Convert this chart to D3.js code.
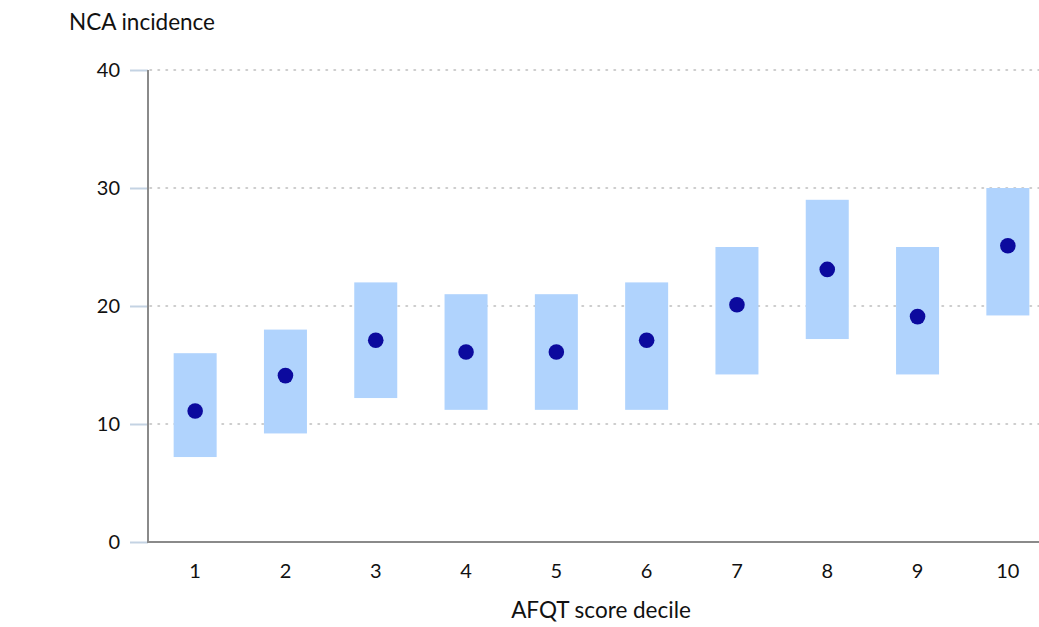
<!DOCTYPE html>
<html>
<head>
<meta charset="utf-8">
<script src="https://cdn.jsdelivr.net/npm/d3@7"></script>
<style>
  html, body { margin: 0; padding: 0; background: #fff; }
  svg { display: block; font-family: Lato, "Open Sans", sans-serif; }
</style>
</head>
<body>
<svg id="chart" width="1039" height="627"></svg>
<script>
// AFQT score deciles and NCA incidence estimates with intervals
const deciles = ["1", "2", "3", "4", "5", "6", "7", "8", "9", "10"];
const estimate = [11.1, 14.1, 17.1, 16.1, 16.1, 17.1, 20.1, 23.1, 19.1, 25.1];
const lower = [7.2, 9.2, 12.2, 11.2, 11.2, 11.2, 14.2, 17.2, 14.2, 19.2];
const upper = [16, 18, 22, 21, 21, 22, 25, 29, 25, 30];
const yTicks = [0, 10, 20, 30, 40];

const svg = d3.select("#chart");

const x = d3.scaleBand().domain(deciles).range([150, 1053]).padding(0);
const y = d3.scaleLinear().domain([0, 40]).range([542, 70]);

// dotted horizontal gridlines
svg.append("g")
  .selectAll("line")
  .data(yTicks.filter(d => d > 0))
  .join("line")
  .attr("x1", 150).attr("x2", 1039)
  .attr("y1", d => y(d)).attr("y2", d => y(d))
  .attr("stroke", "#bdbdbd")
  .attr("stroke-width", 1.5)
  .attr("stroke-dasharray", "1.5,6.5")
  .attr("stroke-linecap", "round");

// y axis with short tick marks
const yAxis = svg.append("g")
  .attr("transform", "translate(148,0)")
  .call(d3.axisLeft(y).tickValues(yTicks).tickSize(18).tickPadding(10));
yAxis.select(".domain").remove();
yAxis.selectAll(".tick line").attr("stroke", "#c4d3e3").attr("stroke-width", 2);
yAxis.selectAll(".tick text")
  .attr("font-size", 20).attr("fill", "#111")
  .attr("font-family", "Lato, 'Open Sans', sans-serif");

// axis lines
svg.append("line")
  .attr("x1", 148).attr("x2", 148).attr("y1", y(40)).attr("y2", y(0) + 1)
  .attr("stroke", "#8a8a8a").attr("stroke-width", 2);
svg.append("line")
  .attr("x1", 148).attr("x2", 1039).attr("y1", y(0)).attr("y2", y(0))
  .attr("stroke", "#8a8a8a").attr("stroke-width", 2);

// x axis labels
const xAxis = svg.append("g")
  .attr("transform", `translate(0,${y(0)})`)
  .call(d3.axisBottom(x).tickSize(0).tickPadding(22));
xAxis.select(".domain").remove();
xAxis.selectAll(".tick text")
  .attr("font-size", 20).attr("fill", "#111")
  .attr("font-family", "Lato, 'Open Sans', sans-serif");

const rows = deciles.map((d, i) => ({ d, est: estimate[i], lo: lower[i], hi: upper[i] }));
const boxW = 43;

// interval boxes
svg.append("g")
  .selectAll("rect")
  .data(rows)
  .join("rect")
  .attr("x", r => x(r.d) + x.bandwidth() / 2 - boxW / 2)
  .attr("width", boxW)
  .attr("y", r => y(r.hi))
  .attr("height", r => y(r.lo) - y(r.hi))
  .attr("fill", "#b0d3fd");

// point estimates
svg.append("g")
  .selectAll("circle")
  .data(rows)
  .join("circle")
  .attr("cx", r => x(r.d) + x.bandwidth() / 2)
  .attr("cy", r => y(r.est))
  .attr("r", 7.8)
  .attr("fill", "#0c0a9e");

// titles
svg.append("text")
  .attr("x", 69).attr("y", 30)
  .attr("font-size", 22.5).attr("fill", "#111")
  .text("NCA incidence");

svg.append("text")
  .attr("x", 601).attr("y", 618)
  .attr("text-anchor", "middle")
  .attr("font-size", 22.5).attr("fill", "#111")
  .text("AFQT score decile");
</script>
</body>
</html>
